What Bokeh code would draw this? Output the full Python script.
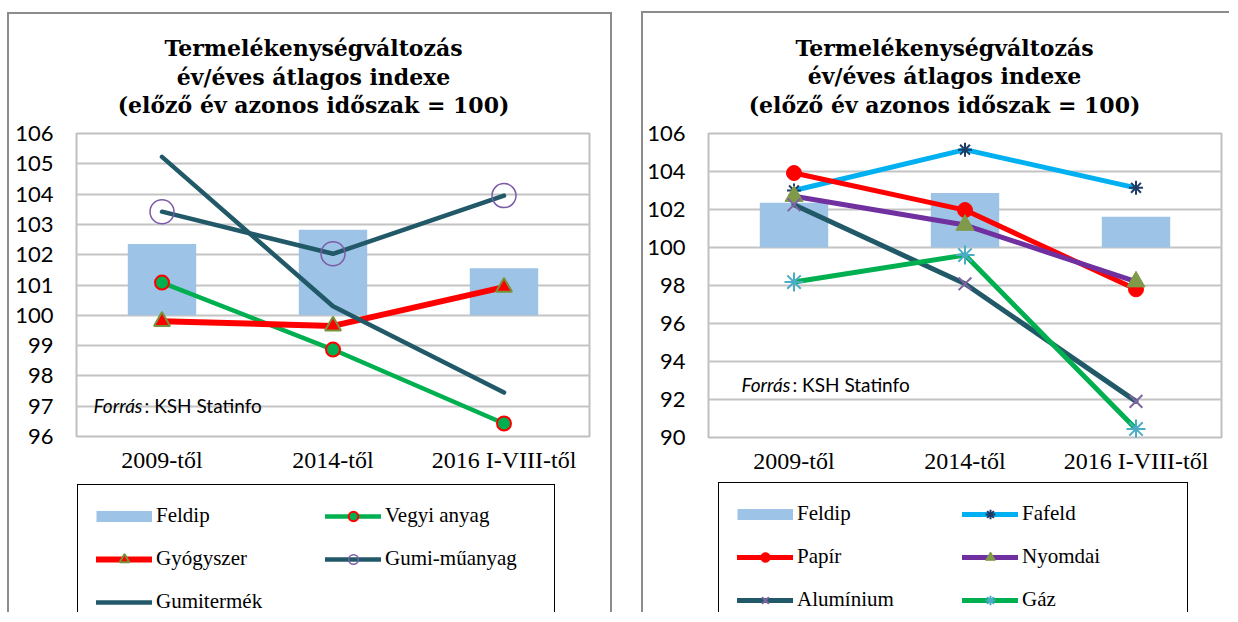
from bokeh.plotting import figure
from bokeh.models import FactorRange, Range1d, Legend, LegendItem, Label, FixedTicker, Spacer
from bokeh.layouts import row, column
from bokeh.embed import file_html
from bokeh.resources import INLINE

# ---------------- data ----------------
categories = ["2009-től", "2014-től", "2016 I-VIII-től"]
title_lines = ["Termelékenységváltozás", "év/éves átlagos indexe", "(előző év azonos időszak = 100)"]
source_italic = "Forrás"
source_rest = ": KSH Statinfo"

# left chart
left_feldip = [102.35, 102.82, 101.55]
vegyi_anyag = [101.08, 98.87, 96.43]
gyogyszer = [99.8, 99.65, 100.93]
gumi_muanyag = [103.42, 102.03, 103.95]
gumitermek = [105.23, 100.3, 97.45]
left_ticks = [96, 97, 98, 99, 100, 101, 102, 103, 104, 105, 106]

# right chart
right_feldip = [102.35, 102.87, 101.62]
fafeld = [103.0, 105.15, 103.14]
papir = [103.92, 101.97, 97.8]
nyomdai = [102.7, 101.18, 98.2]
aluminium = [102.25, 98.09, 91.9]
gaz = [98.18, 99.6, 90.45]
right_ticks = [90, 92, 94, 96, 98, 100, 102, 104, 106]

GRAY = "#8c8c8c"
BAR = "#9DC3E6"
FRAME_W = 513

# series styles: (line colour, line width, marker, marker size, marker fill, marker line, marker line width)
left_styles = {
    "Vegyi anyag": ("#00B050", 4.5, "circle", 14, "#00B050", "#FF0000", 2),
    "Gyógyszer": ("#FF0000", 6, "triangle", 16, "#FF0000", "#77933C", 2),
    "Gumi-műanyag": ("#215968", 4.5, "circle", 24, None, "#7B5BA8", 1.5),
    "Gumitermék": ("#215968", 4.5, None, 0, None, None, 0),
}
right_styles = {
    "Fafeld": ("#00B0F0", 5, "asterisk", 14, None, "#1F3B66", 2),
    "Papír": ("#FF0000", 5, "circle", 15, "#FF0000", "#FF0000", 1),
    "Nyomdai": ("#7030A0", 5, "triangle", 18, "#7F9A48", "#7F9A48", 1),
    "Alumínium": ("#215968", 5, "x", 18, None, "#8064A2", 2),
    "Gáz": ("#00B050", 5, "asterisk", 19, None, "#4BACC6", 2),
}


def shadow(top_gap, right):
    parts = []
    if top_gap is not None:
        parts.append("inset 0 %dpx 0 0 #ffffff" % top_gap)
        parts.append("inset 0 %dpx 0 0 %s" % (top_gap + 2, GRAY))
    parts.append("inset 2px 0 0 0 %s" % GRAY)
    if right:
        parts.append("inset -2px 0 0 0 %s" % GRAY)
    return ", ".join(parts)


def blank_fig(width, height, mb_left, mb_right, right, top_gap=None):
    p = figure(width=width, height=height, x_range=Range1d(0, FRAME_W), y_range=Range1d(0, height),
               output_backend="svg", toolbar_location=None, x_axis_type=None, y_axis_type=None,
               min_border_left=mb_left, min_border_right=mb_right, min_border_top=0, min_border_bottom=0)
    p.styles = {"box-shadow": shadow(top_gap, right)}
    p.outline_line_color = None
    p.background_fill_color = None
    p.border_fill_color = None
    return p


def title_fig(width, height, mb_left, mb_right, cx, baselines, right, top_gap):
    p = blank_fig(width, height, mb_left, mb_right, right, top_gap)
    for txt, yb in zip(title_lines, baselines):
        p.add_layout(Label(x=cx, y=height - yb, text=txt, text_align="center",
                           text_baseline="alphabetic", text_font="DejaVu Serif",
                           text_font_style="bold", text_font_size="22px", text_color="black"))
    return p


def chart_fig(width, height, mb_left, mb_right, mb_top, mb_bottom, ymin, ymax, ticks, right):
    p = figure(width=width, height=height, x_range=FactorRange(factors=categories),
               y_range=Range1d(ymin, ymax), output_backend="svg", toolbar_location=None,
               min_border_left=mb_left, min_border_right=mb_right,
               min_border_top=mb_top, min_border_bottom=mb_bottom)
    p.styles = {"box-shadow": shadow(None, right)}
    p.background_fill_color = "white"
    p.border_fill_color = None
    p.outline_line_color = "#C0C0C0"
    p.outline_line_width = 2
    p.xgrid.grid_line_color = None
    p.ygrid.grid_line_color = "#C4C4C4"
    p.ygrid.grid_line_width = 2
    p.yaxis.ticker = FixedTicker(ticks=ticks)
    p.ygrid.ticker = FixedTicker(ticks=ticks)
    for ax in (p.xaxis, p.yaxis):
        ax.axis_line_color = None
        ax.major_tick_line_color = None
        ax.minor_tick_line_color = None
        ax.major_label_text_color = "black"
    p.yaxis.major_label_text_font = "Lato"
    p.yaxis.major_label_text_font_size = "22px"
    p.yaxis.major_label_standoff = 17
    p.xaxis.major_label_text_font = "Liberation Serif"
    p.xaxis.major_label_text_font_size = "24px"
    p.xaxis.major_label_standoff = 4
    return p


def add_source(p, x, y):
    p.add_layout(Label(x=x, y=y, text=source_italic, text_font="Lato", text_font_style="italic",
                       text_font_size="19px", text_baseline="alphabetic", text_color="black"))
    p.add_layout(Label(x=x, y=y, x_offset=51, text=source_rest, text_font="Lato",
                       text_font_size="19px", text_baseline="alphabetic", text_color="black"))


def draw_series(p, xs, vals, st):
    color, lw, marker, msize, mfill, mline, mlw = st
    rs = [p.line(x=xs, y=vals, line_color=color, line_width=lw, line_join="round", line_cap="round")]
    if marker is not None:
        rs.append(p.scatter(x=xs, y=vals, marker=marker, size=msize,
                            fill_color=mfill, line_color=mline, line_width=mlw))
    return rs


def legend_fig(width, height, mb_left, mb_right, styles, loc, label_width, right):
    p = blank_fig(width, height, mb_left, mb_right, right)
    # legend key glyphs only: their points lie outside the visible ranges
    off_x = [-1000, -999]
    off_y = [-1000, -1000]
    items = [LegendItem(label="Feldip",
                        renderers=[p.line(x=off_x, y=off_y, line_color=BAR, line_width=11, line_cap="butt")])]
    for name, st in styles.items():
        items.append(LegendItem(label=name, renderers=draw_series(p, off_x, off_y, st)))
    leg = Legend(items=items, location=loc, orientation="horizontal", ncols=2,
                 glyph_width=56, glyph_height=24, label_height=24, label_width=label_width,
                 label_standoff=4, spacing=18, padding=18, margin=0,
                 border_line_color="black", border_line_width=1.5, border_line_alpha=1,
                 background_fill_color="white", background_fill_alpha=1,
                 label_text_font="Liberation Serif", label_text_font_size="21px",
                 label_text_color="black")
    p.add_layout(leg)
    return p


# ---------------- left panel ----------------
t1 = title_fig(605, 118, 69, 23, 237, [47, 76, 104], True, 12)
p1 = chart_fig(605, 359, 69, 23, 15, 41, 96, 106, left_ticks, True)
p1.vbar(x=categories, top=left_feldip, bottom=100, width=0.4, fill_color=BAR, line_color=None)
for name, vals in [("Vegyi anyag", vegyi_anyag), ("Gyógyszer", gyogyszer),
                   ("Gumi-műanyag", gumi_muanyag), ("Gumitermék", gumitermek)]:
    draw_series(p1, categories, vals, left_styles[name])
add_source(p1, 0.1, 97.03)
l1 = legend_fig(605, 135, 69, 23, left_styles, (1, -21), 151, True)

# ---------------- right panel ----------------
t2 = title_fig(588, 118, 67, 8, 236, [47, 75.5, 104], False, 11)
p2 = chart_fig(588, 359, 67, 8, 15, 40, 90, 106, right_ticks, False)
p2.vbar(x=categories, top=right_feldip, bottom=100, width=0.4, fill_color=BAR, line_color=None)
for name, vals in [("Fafeld", fafeld), ("Papír", papir), ("Nyomdai", nyomdai),
                   ("Alumínium", aluminium), ("Gáz", gaz)]:
    draw_series(p2, categories, vals, right_styles[name])
add_source(p2, 0.193, 92.77)
l2 = legend_fig(588, 135, 67, 8, right_styles, (10, -19), 147, False)

left_panel = column(t1, p1, l1, spacing=0)
right_panel = column(t2, p2, l2, spacing=0)
layout = row(Spacer(width=7), left_panel, Spacer(width=29), right_panel, spacing=0)

open("out.html", "w").write(file_html(layout, INLINE))
